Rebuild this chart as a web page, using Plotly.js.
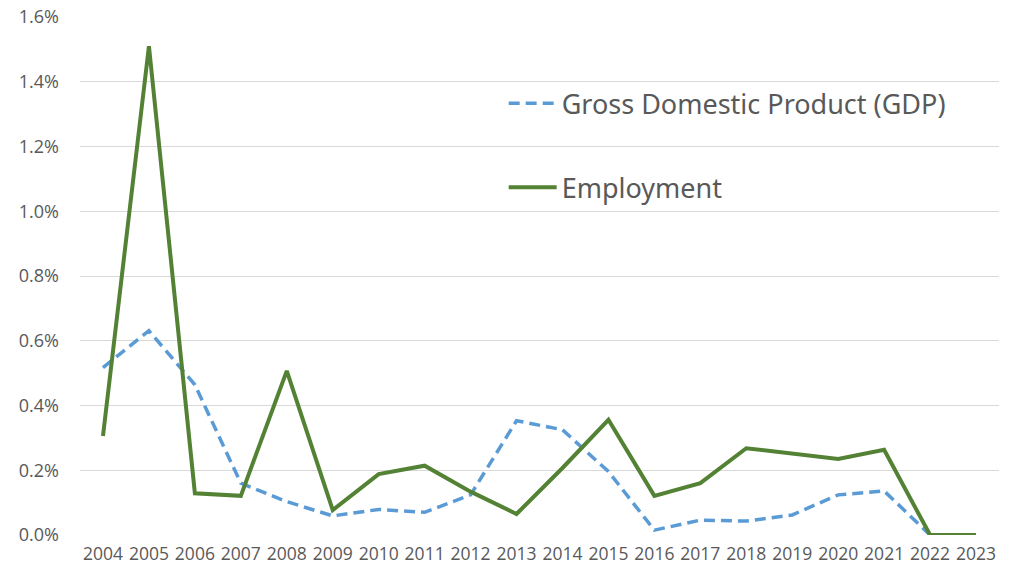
<!DOCTYPE html>
<html>
<head>
<meta charset="utf-8">
<script src="https://cdn.plot.ly/plotly-3.0.1.min.js"></script>
<style>html,body{margin:0;padding:0;background:#fff;}#chart{width:1010px;height:567px;}</style>
</head>
<body>
<div id="chart"></div>
<script>
const years = ['2004','2005','2006','2007','2008','2009','2010','2011','2012','2013','2014','2015','2016','2017','2018','2019','2020','2021','2022','2023'];
const gdp = [0.517,0.631,0.464,0.160,0.103,0.059,0.079,0.070,0.124,0.353,0.325,0.196,0.015,0.046,0.043,0.062,0.124,0.136,0.0,0.0];
const employment = [0.306,1.51,0.129,0.121,0.507,0.077,0.188,0.214,0.134,0.065,0.207,0.356,0.121,0.160,0.268,0.252,0.235,0.263,0.0,0.0];
const yTicks = [0,0.2,0.4,0.6,0.8,1.0,1.2,1.4,1.6];

const traces = [
  {x: years, y: gdp, type:'scatter', mode:'lines', name:'Gross Domestic Product (GDP)',
   legendgroup:'a', line:{color:'#5B9BD5', width:3.5, dash:'11px,6px'}},
  {x: years, y: employment, type:'scatter', mode:'lines', name:'Employment',
   legendgroup:'b', line:{color:'#548235', width:4}}
];

const layout = {
  width:1010, height:567,
  margin:{l:80, r:11, t:17, b:32},
  paper_bgcolor:'#fff', plot_bgcolor:'#fff',
  font:{family:'"Open Sans", "Noto Sans", sans-serif', color:'#595959'},
  showlegend:true,
  hovermode:false,
  legend:{x:0.461, y:0.88, xanchor:'left', yanchor:'top', bgcolor:'rgba(0,0,0,0)',
          font:{size:27, color:'#595959', family:'"Noto Sans", sans-serif'},
          traceorder:'grouped', tracegroupgap:46, itemwidth:48},
  xaxis:{type:'category', range:[-0.5,19.5], showgrid:false, zeroline:false, showline:false,
         ticks:'', tickfont:{size:17.5, color:'#595959'}, ticklabelstandoff:6, fixedrange:true},
  yaxis:{range:[0,1.6], tickvals:yTicks, ticktext:yTicks.map(v=>v.toFixed(1)+'%'),
         showgrid:true, gridcolor:'#d9d9d9', gridwidth:1, zeroline:false, showline:false,
         ticks:'', tickfont:{size:18, color:'#595959'}, ticklabelstandoff:20, fixedrange:true}
};

Plotly.newPlot('chart', traces, layout, {staticPlot:true, displayModeBar:false});
</script>
</body>
</html>
